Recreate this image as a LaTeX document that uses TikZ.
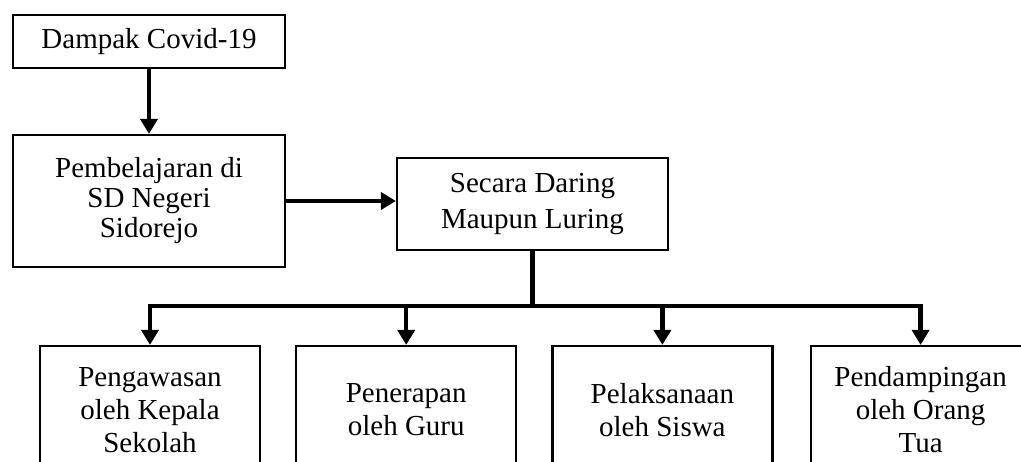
\documentclass[tikz,border=0pt]{standalone}
\usepackage{fontspec}
\setmainfont{Liberation Serif}
\usetikzlibrary{arrows.meta,positioning}

\begin{document}
\begin{tikzpicture}[
    x=1pt, y=-1pt,
    node distance=34pt,
    every node/.style={align=center},
    box/.style={rectangle, draw, line width=2.2pt, inner sep=0pt,
                minimum width=220pt, minimum height=128pt,
                font=\fontsize{29}{33}\selectfont},
    link/.style={draw, line width=4.5pt},
    arrow/.style={link, -{Triangle[length=15pt,width=17pt]}},
]
\useasboundingbox (0,0) rectangle (1021,462);
\clip (0,0) rectangle (1021,462);

% top part
\node [box, minimum width=272pt, minimum height=53pt] (covid) at (149,41.5) {Dampak Covid-19};
\node [box, minimum width=272pt, minimum height=132pt,
       font=\fontsize{29}{30}\selectfont] (pemb) at (149,201)
      {Pembelajaran di\\SD Negeri\\Sidorejo};
\node [box, minimum width=271pt, minimum height=92pt,
       font=\fontsize{29}{36}\selectfont] (secara) at (532.5,204)
      {Secara Daring\\Maupun Luring};

% bottom row
\node [box] (kepsek) at (150,410) {Pengawasan\\oleh Kepala\\Sekolah};
\node [box, right=of kepsek] (guru) {Penerapan\\oleh Guru};
\node [box, right=of guru] (siswa) {Pelaksanaan\\oleh Siswa};
\node [box, right=36pt of siswa] (ortu) {Pendampingan\\oleh Orang\\Tua};

\draw [arrow] (covid) -- (pemb);
\draw [arrow] (pemb.east) -- (pemb.east -| secara.west);

\coordinate (bus) at (532.5,306);
\draw [link] (secara.south) -- (bus);
\draw [link, line cap=rect] (kepsek.north |- bus) -- (ortu.north |- bus);
\foreach \n in {kepsek,guru,siswa,ortu}
  \draw [arrow] (\n.north |- bus) -- (\n.north);

\end{tikzpicture}
\end{document}
